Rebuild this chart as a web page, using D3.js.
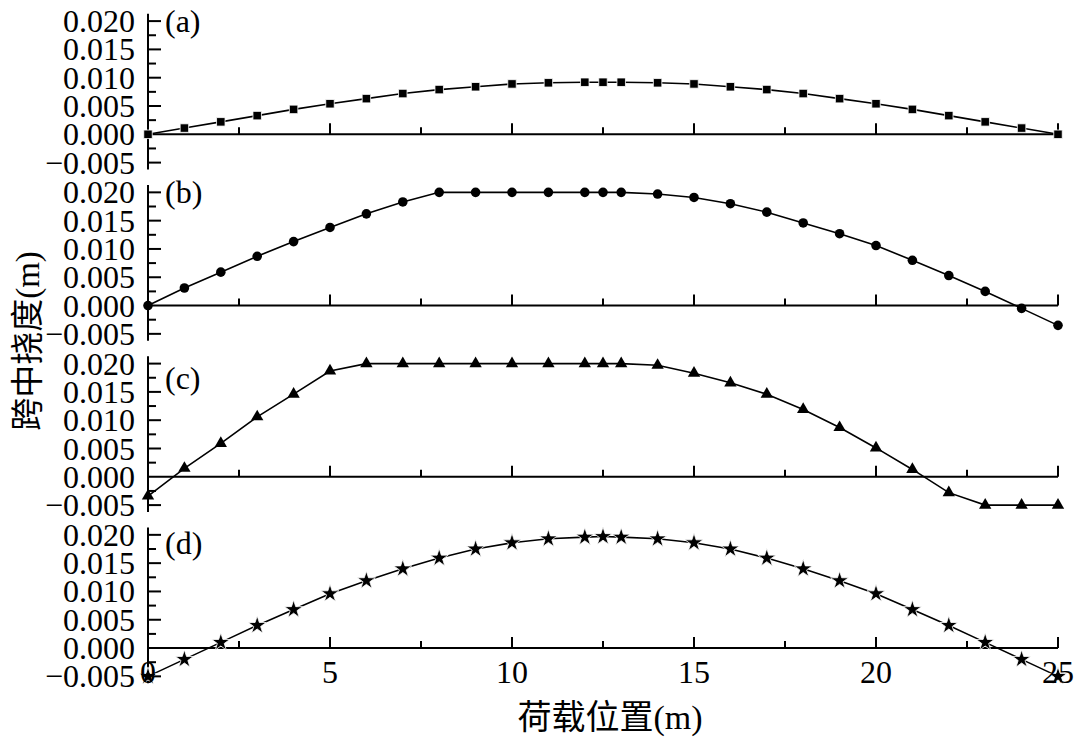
<!DOCTYPE html>
<html><head><meta charset="utf-8">
<script src="https://cdn.jsdelivr.net/npm/d3@7"></script>
<style>body{margin:0;background:#fff;} svg{display:block;}</style>
</head><body>
<svg id="c" width="1077" height="742"></svg>
<script>
const xPositions = [0,1,2,3,4,5,6,7,8,9,10,11,12,12.5,13,14,15,16,17,18,19,20,21,22,23,24,25];
const seriesA = [0,0.0011,0.0022,0.0033,0.0044,0.0054,0.0063,0.0072,0.0079,0.0084,0.0089,0.0091,0.0092,0.0092,0.0092,0.0091,0.0089,0.0084,0.0079,0.0072,0.0063,0.0054,0.0044,0.0033,0.0022,0.0011,0];
const seriesB = [0,0.0031,0.0059,0.0087,0.0113,0.0138,0.0162,0.0183,0.0200,0.0200,0.0200,0.0200,0.0200,0.0200,0.0200,0.0197,0.0191,0.0180,0.0165,0.0146,0.0127,0.0106,0.0080,0.0053,0.0025,-0.0005,-0.0035];
const seriesC = [-0.0034,0.0015,0.0059,0.0106,0.0146,0.0187,0.0200,0.0200,0.0200,0.0200,0.0200,0.0200,0.0200,0.0200,0.0200,0.0197,0.0183,0.0166,0.0146,0.0119,0.0087,0.0051,0.0013,-0.0028,-0.0050,-0.0050,-0.0050];
const seriesD = [-0.0050,-0.0020,0.0010,0.0040,0.0068,0.0096,0.0119,0.0140,0.0159,0.0175,0.0186,0.0193,0.0196,0.0197,0.0196,0.0193,0.0186,0.0175,0.0159,0.0140,0.0119,0.0096,0.0068,0.0040,0.0010,-0.0020,-0.0050];
const panelLabels = ["(a)","(b)","(c)","(d)"];
const yTickValues = [-0.005,0.000,0.005,0.010,0.015,0.020];
const yMinorValues = [-0.0025,0.0025,0.0075,0.0125,0.0175];
const xTickValues = [0,5,10,15,20,25];
const xMinorValues = [2.5,7.5,12.5,17.5,22.5];
const xTitleCJK = "荷载位置", xTitleUnit = "(m)";
const yTitleCJK = "跨中挠度", yTitleUnit = "(m)";

const svg = d3.select("#c");
const x = d3.scaleLinear().domain([0,25]).range([148,1058]);
const zero0 = 134.3, step = 171.25, unit = 28.3/0.005;
const fontNum = "Liberation Serif, Times New Roman, serif";
const fontCJK = "Noto Sans CJK SC, sans-serif";
const series = [seriesA, seriesB, seriesC, seriesD];
const symbols = [
  {type: d3.symbolSquare, size: 72},
  {type: d3.symbolCircle, size: 72},
  {type: d3.symbolTriangle, size: 66},
  {type: d3.symbolStar, size: 100}
];
const labelShift = [0, 0, 0.0025, 0.0015];

series.forEach((vals, i) => {
  const z = zero0 + i*step;
  const y = d3.scaleLinear().domain([0,0.02]).range([z, z - 0.02*unit]);
  const g = svg.append("g");
  g.append("line").attr("x1",148).attr("x2",148)
    .attr("y1",y(0.0213)).attr("y2",y(-0.0062))
    .attr("stroke","#000").attr("stroke-width",2);
  g.selectAll(".ym").data(yTickValues.filter(v=>v!==0)).join("line")
    .attr("x1",148).attr("x2",161).attr("y1",d=>y(d)).attr("y2",d=>y(d))
    .attr("stroke","#000").attr("stroke-width",2);
  g.selectAll(".yn").data(yMinorValues).join("line")
    .attr("x1",148).attr("x2",156).attr("y1",d=>y(d)).attr("y2",d=>y(d))
    .attr("stroke","#000").attr("stroke-width",2);
  g.selectAll(".yl").data(yTickValues).join("text")
    .attr("x",135).attr("y",d=>y(d)+11)
    .attr("text-anchor","end")
    .attr("font-family",fontNum).attr("font-size",32)
    .text(d => (d<0?"\u2212":"") + Math.abs(d).toFixed(3));
  g.append("line").attr("x1",148).attr("x2",1058).attr("y1",y(0)).attr("y2",y(0))
    .attr("stroke","#000").attr("stroke-width",2);
  g.selectAll(".xm").data(xTickValues.filter(v=>v!==0)).join("line")
    .attr("x1",d=>x(d)).attr("x2",d=>x(d)).attr("y1",y(0)).attr("y2",y(0)-11)
    .attr("stroke","#000").attr("stroke-width",2);
  g.selectAll(".xn").data(xMinorValues).join("line")
    .attr("x1",d=>x(d)).attr("x2",d=>x(d)).attr("y1",y(0)).attr("y2",y(0)-7)
    .attr("stroke","#000").attr("stroke-width",2);
  g.append("text").attr("x",165).attr("y",y(0.020 - labelShift[i])+11)
    .attr("font-family",fontNum).attr("font-size",32).text(panelLabels[i]);
  const pts = xPositions.map((xv,k)=>[xv, vals[k]]);
  g.append("path").datum(pts)
    .attr("d", d3.line().x(d=>x(d[0])).y(d=>y(d[1])))
    .attr("fill","none").attr("stroke","#000").attr("stroke-width",1.6);
  const sym = d3.symbol().type(symbols[i].type).size(symbols[i].size);
  g.selectAll(".mk").data(pts).join("path")
    .attr("transform", d=>`translate(${x(d[0])},${y(d[1])})`)
    .attr("d", sym).attr("fill","#000")
    .attr("stroke","#fff").attr("stroke-width", i===1||i===2 ? 0 : 0.8);
  if (i === 3) {
    g.selectAll(".xl").data(xTickValues).join("text")
      .attr("x",d=>x(d)).attr("y",y(0)+35)
      .attr("text-anchor","middle")
      .attr("font-family",fontNum).attr("font-size",32)
      .text(d=>d);
  }
});

const xt = svg.append("text").attr("x",610).attr("y",729).attr("text-anchor","middle")
  .attr("font-size",34);
xt.append("tspan").attr("font-family",fontCJK).text(xTitleCJK);
xt.append("tspan").attr("font-family",fontNum).text(xTitleUnit);

const yt = svg.append("text").attr("transform","translate(39,341) rotate(-90)")
  .attr("text-anchor","middle").attr("font-size",33);
yt.append("tspan").attr("font-family",fontCJK).text(yTitleCJK);
yt.append("tspan").attr("font-family",fontNum).text(yTitleUnit);
</script>
</body></html>
